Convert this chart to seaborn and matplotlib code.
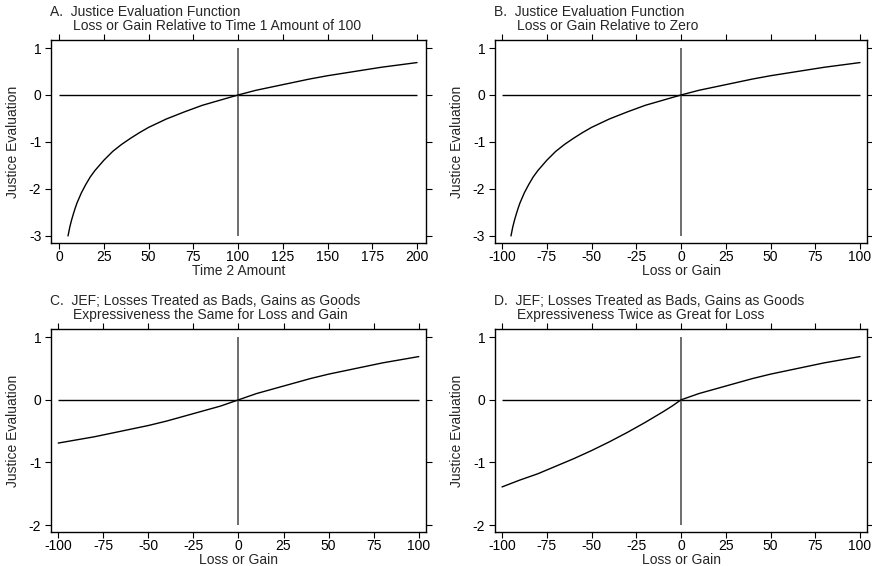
import numpy as np
import pandas as pd
import matplotlib
matplotlib.use('Agg')
import matplotlib.pyplot as plt
import seaborn as sns

# values
time2 = [5, 6, 7, 8, 9, 10, 12.5, 15, 17.5, 20, 25, 30, 35, 40, 45, 50, 60, 70,
         80, 90, 100, 110, 120, 130, 140, 150, 160, 170, 180, 190, 200]
jef_a = [-3.00, -2.81, -2.66, -2.53, -2.41, -2.30, -2.08, -1.90, -1.74, -1.61,
         -1.39, -1.20, -1.05, -0.92, -0.80, -0.69, -0.51, -0.36, -0.22, -0.11,
         0.00, 0.10, 0.18, 0.26, 0.34, 0.41, 0.47, 0.53, 0.59, 0.64, 0.69]

gain_b = [-95, -94, -93, -92, -91, -90, -87.5, -85, -82.5, -80, -75, -70, -65,
          -60, -55, -50, -40, -30, -20, -10, 0, 10, 20, 30, 40, 50, 60, 70, 80,
          90, 100]
jef_b = jef_a

gain_cd = [-100, -90, -80, -70, -60, -50, -40, -30, -20, -10, -5, 0, 5, 10, 20,
           30, 40, 50, 60, 70, 80, 90, 100]
jef_c = [-0.69, -0.64, -0.59, -0.53, -0.47, -0.41, -0.34, -0.26, -0.18, -0.10,
         -0.05, 0.00, 0.05, 0.10, 0.18, 0.26, 0.34, 0.41, 0.47, 0.53, 0.59, 0.64,
         0.69]
jef_d = [-1.39, -1.28, -1.18, -1.06, -0.94, -0.81, -0.67, -0.52, -0.36, -0.19,
         -0.10, 0.00, 0.05, 0.10, 0.18, 0.26, 0.34, 0.41, 0.47, 0.53, 0.59, 0.64,
         0.69]

ticks_a = [0, 25, 50, 75, 100, 125, 150, 175, 200]
ticks_g = [-100, -75, -50, -25, 0, 25, 50, 75, 100]
yticks_ab = [-3, -2, -1, 0, 1]
yticks_cd = [-2, -1, 0, 1]

titles = [("A.  Justice Evaluation Function",
           "Loss or Gain Relative to Time 1 Amount of 100"),
          ("B.  Justice Evaluation Function",
           "Loss or Gain Relative to Zero"),
          ("C.  JEF; Losses Treated as Bads, Gains as Goods",
           "Expressiveness the Same for Loss and Gain"),
          ("D.  JEF; Losses Treated as Bads, Gains as Goods",
           "Expressiveness Twice as Great for Loss")]

sns.set_style('ticks')
plt.rcParams['font.family'] = ['Liberation Sans', 'DejaVu Sans']
plt.rcParams['font.size'] = 10
plt.rcParams['axes.unicode_minus'] = False
plt.rcParams['axes.linewidth'] = 1.0
plt.rcParams['xtick.major.size'] = 4
plt.rcParams['ytick.major.size'] = 4
plt.rcParams['xtick.color'] = 'black'
plt.rcParams['ytick.color'] = 'black'
plt.rcParams['axes.edgecolor'] = 'black'

fig = plt.figure(figsize=(8.72, 5.66), dpi=100)
ax1 = fig.add_axes([0.0585, 0.5707, 0.430, 0.3586])
ax2 = fig.add_axes([0.5675, 0.5707, 0.427, 0.3586])
ax3 = fig.add_axes([0.0585, 0.0600, 0.430, 0.3587])
ax4 = fig.add_axes([0.5675, 0.0600, 0.427, 0.3587])

panels = [
    (ax1, time2, jef_a, ticks_a, yticks_ab, 100, 'Time 2 Amount', (-4.5, 205), (-3.15, 1.17)),
    (ax2, gain_b, jef_b, ticks_g, yticks_ab, 0, 'Loss or Gain', (-104, 104), (-3.15, 1.17)),
    (ax3, gain_cd, jef_c, ticks_g, yticks_cd, 0, 'Loss or Gain', (-104, 104), (-2.11, 1.13)),
    (ax4, gain_cd, jef_d, ticks_g, yticks_cd, 0, 'Loss or Gain', (-104, 104), (-2.11, 1.13)),
]

for i, (ax, x, y, xt, yt, vx, xlab, xl, yl) in enumerate(panels):
    df = pd.DataFrame({'x': x, 'y': y})
    # reference lines
    ax.hlines(0, xt[0], xt[-1], color='black', lw=1.0)
    ax.vlines(vx, yt[0], yt[-1], color='#555555', lw=1.2)
    sns.lineplot(data=df, x='x', y='y', color='black', lw=1.0, ax=ax)
    ax.set_xticks(xt)
    ax.set_yticks(yt)
    ax.set_xlim(xl)
    ax.set_ylim(yl)
    ax.tick_params(top=True, right=True, labeltop=False, labelright=False,
                   direction='out', labelsize=10)
    ax.tick_params(axis='x', pad=1)
    ax.tick_params(axis='y', pad=3)
    ax.set_xlabel(xlab, fontsize=10, labelpad=0)
    ax.set_ylabel('Justice Evaluation', fontsize=10, labelpad=6)
    t1, t2 = titles[i]
    ax.annotate(t1, xy=(0, 1), xycoords='axes fraction', xytext=(-1, 28),
                textcoords='offset pixels', ha='left', va='center', fontsize=10)
    ax.annotate(t2, xy=(0, 1), xycoords='axes fraction', xytext=(22, 14),
                textcoords='offset pixels', ha='left', va='center', fontsize=10)

fig.savefig('out.png', dpi=100)
